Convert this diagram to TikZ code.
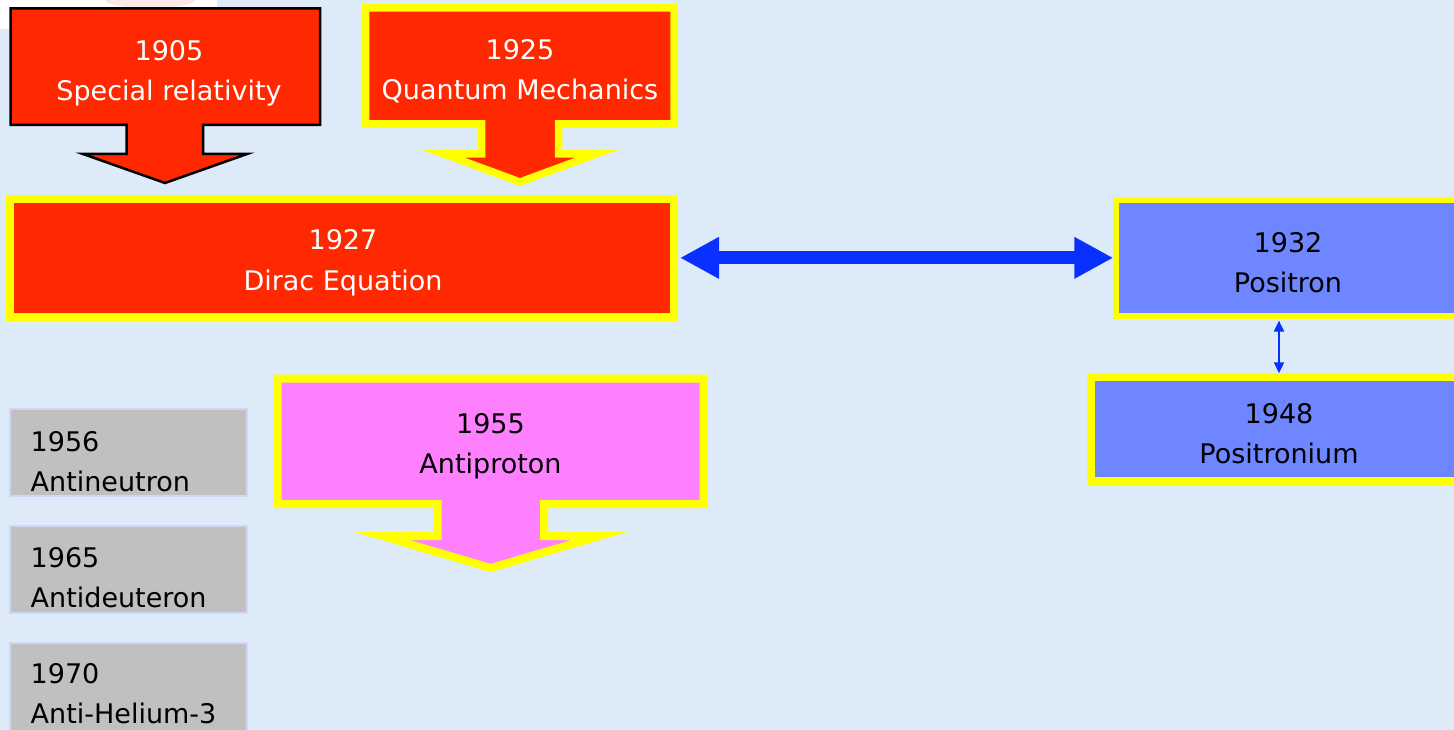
\documentclass[tikz,border=0pt]{standalone}
\usepackage{fontspec}
\setmainfont{DejaVu Sans}
\usetikzlibrary{arrows.meta}
\definecolor{bg}{RGB}{221,235,249}
\definecolor{boxred}{RGB}{255,40,0}
\definecolor{boxyel}{RGB}{255,255,0}
\definecolor{boxpink}{RGB}{255,128,255}
\definecolor{boxblue}{RGB}{110,134,255}
\definecolor{arrblue}{RGB}{10,48,255}
\definecolor{boxgray}{RGB}{192,192,192}
\definecolor{graybord}{RGB}{212,212,246}
\definecolor{blush}{RGB}{250,215,215}
\begin{document}
\begin{tikzpicture}[x=1pt,y=-1pt,
  lbl/.style={font=\fontsize{27}{40}\selectfont, align=center, inner sep=0pt},
  lblleft/.style={font=\fontsize{27}{40}\selectfont, align=left, inner sep=0pt, anchor=west},
  ybox/.style={draw=boxyel, line join=miter},
  rectbox/.style={inner sep=0pt, anchor=north west},
  graybox/.style={rectbox, draw=graybord, fill=boxgray, line width=2pt, minimum width=237pt},
  bigarrow/.style={line width=13pt, arrblue, {Triangle[width=39pt,length=39pt]}-{Triangle[width=39pt,length=39pt]}},
  smallarrow/.style={line width=2pt, arrblue, {Triangle[width=10pt,length=11pt]}-{Triangle[width=10pt,length=11pt]}}
]
\useasboundingbox (0,0) rectangle (1454,730);
\fill[bg] (0,0) rectangle (1454,730);
\fill[white] (0,0) rectangle (217,29);
\fill[blush, opacity=0.6] (150,0) ellipse (45pt and 8pt);

% 1905 arrow box
\draw[fill=boxred, line width=2.5pt, line join=miter]
  (10.5,8.5) -- (320,8.5) -- (320,125) -- (203,125) -- (203,154) -- (247,154)
  -- (165,183) -- (83,154) -- (126.5,154) -- (126.5,125) -- (10.5,125) -- cycle;
\node[lbl, text=white] (t1905) at (169,73) {\strut 1905\\\strut Special relativity};

% 1925 arrow box
\draw[ybox, fill=boxred, line width=7.5pt]
  (365.5,8) -- (674,8) -- (674,124) -- (558.5,124) -- (558.5,154) -- (596,154)
  -- (520,182) -- (444,154) -- (481.5,154) -- (481.5,124) -- (365.5,124) -- cycle;
\node[lbl, text=white] (t1925) at (520,72) {\strut 1925\\\strut Quantum Mechanics};

% 1927 Dirac box
\node[rectbox, ybox, fill=boxred, line width=8pt, minimum width=663.5pt, minimum height=117.7pt] (dirac) at (6,195) {};
\node[lbl, text=white] (t1927) at (343,262) {\strut 1927\\\strut Dirac Equation};

% 1932 Positron box
\node[rectbox, ybox, fill=boxblue, line width=6pt, minimum width=361pt, minimum height=116pt] (positron) at (1113.3,197.3) {};
\node[lbl] (t1932) at (1288,264) {\strut 1932\\\strut Positron};

% 1948 Positronium box
\node[rectbox, ybox, fill=boxblue, line width=8pt, minimum width=385pt, minimum height=103.7pt] (positronium) at (1086.7,373.3) {};
\node[lbl] (t1948) at (1279,435) {\strut 1948\\\strut Positronium};

% 1955 Antiproton arrow box
\draw[ybox, fill=boxpink, line width=8pt]
  (277.5,378.5) -- (703.5,378.5) -- (703.5,504) -- (544,504) -- (544,536) -- (599.5,536)
  -- (490.75,568) -- (382,536) -- (437.5,536) -- (437.5,504) -- (277.5,504) -- cycle;
\node[lbl] (t1955) at (490.5,445) {\strut 1955\\\strut Antiproton};

% gray boxes
\node[graybox, minimum height=87pt] (g1956) at (9,408) {};
\node[lblleft] (t1956) at (30.5,463) {\strut 1956\\\strut Antineutron};
\node[graybox, minimum height=87pt] (g1965) at (9,525) {};
\node[lblleft] (t1965) at (30.5,579) {\strut 1965\\\strut Antideuteron};
\node[graybox, minimum height=100pt] (g1970) at (9,642) {};
\node[lblleft] (t1970) at (30.5,695) {\strut 1970\\\strut Anti-Helium-3};

% connectors
\draw[bigarrow, shorten <=2.5pt] (dirac.east) -- (dirac.east -| positron.west);
\coordinate (ax) at (1279,0);
\draw[smallarrow, shorten <=1.3pt] (ax |- positron.south) -- (ax |- positronium.north);
\end{tikzpicture}
\end{document}
